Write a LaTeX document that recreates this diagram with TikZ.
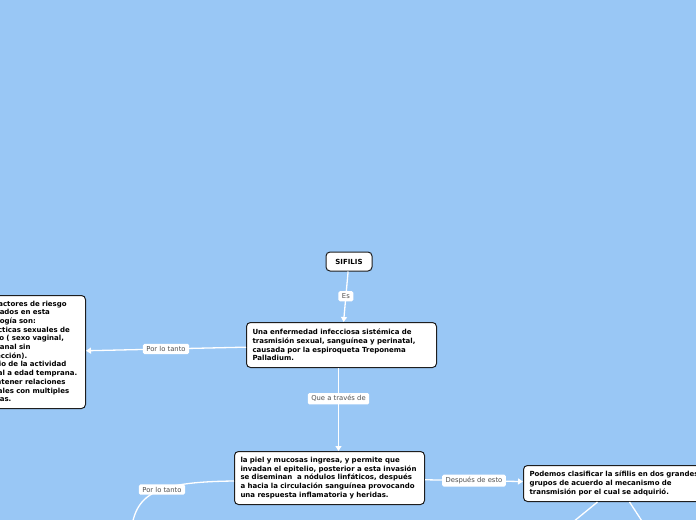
\documentclass[tikz,border=0pt]{standalone}
\usepackage{fontspec}
\setmainfont{DejaVu Sans}
\usetikzlibrary{arrows.meta, positioning}
\definecolor{skyback}{RGB}{153,199,245}
\definecolor{boxline}{RGB}{30,30,30}
\definecolor{taggray}{RGB}{80,80,80}
\newcommand\nobreakwords{\hyphenpenalty=10000\relax}

\begin{document}
\begin{tikzpicture}[x=1pt, y=-1pt,
    topic/.style={draw=boxline, line width=1pt, rounded corners=4pt, fill=white,
                  align=left, inner xsep=6pt, inner ysep=4pt,
                  font=\fontsize{7}{8.7}\selectfont\bfseries\nobreakwords},
    tag/.style={fill=white, rounded corners=1.5pt, inner xsep=3.5pt, inner ysep=2.5pt,
                text=taggray, font=\fontsize{6.8}{7}\selectfont},
    link/.style={draw=white, line width=1.3pt, -{Triangle[width=6pt, length=5pt]}}
]
    \useasboundingbox (0,0) rectangle (696,520);
    \clip (0,0) rectangle (696,520);
    \fill[skyback] (0,0) rectangle (696,520);

    \node[topic, align=center, minimum width=46pt, minimum height=19pt] (sifilis) at (349,261.5) {SIFILIS};
    \node[topic, anchor=north west, text width=178pt, minimum height=45pt] (def) at (246,322)
        {Una enfermedad infecciosa sistémica de\\trasmisión sexual, sanguínea y perinatal,\\causada por la espiroqueta Treponema\\Palladium.};
    \node[topic, anchor=north west, inner xsep=4pt, text width=102pt, minimum height=113pt] (risk) at (-25,295)
        {Los factores de riesgo\\asociados en esta\\patología son:\\- Prácticas sexuales de\\riesgo ( sexo vaginal,\\oral, anal sin\\protección).\\- Inicio de la actividad\\sexual a edad temprana.\\- Mantener relaciones\\sexuales con multiples\\parejas.};
    \node[topic, anchor=north west, text width=178pt, minimum height=53pt] (cause) at (234,451)
        {la piel y mucosas ingresa, y permite que\\invadan el epitelio, posterior a esta invasión\\se diseminan \ a nódulos linfáticos, después\\a hacia la circulación sanguínea provocando\\una respuesta inflamatoria y heridas.};
    \node[topic, anchor=north west, text width=200pt, minimum height=36pt] (kinds) at (523,465)
        {Podemos clasificar la sífilis en dos grandes\\grupos de acuerdo al mecanismo de\\transmisión por el cual se adquirió.};

    \coordinate (below) at (130,545);
    \coordinate (kidleft) at (551,540);
    \coordinate (kidright) at (655,541);

    \draw[link] (sifilis) -- (def) node[tag, pos=0.49] {Es};
    \draw[link] (def) -- (risk) node[tag, midway] {Por lo tanto};
    \draw[link] ([xshift=-3pt]def.south) -- ([xshift=9pt]cause.north) node[tag, pos=0.37] {Que a través de};
    \draw[link] (cause) -- (kinds) node[tag, midway] {Después de esto};
    \draw[link] ([yshift=-3pt]cause.west) .. controls (150,482) and (133,495) .. (below)
        node[tag, pos=0.4] {Por lo tanto};
    \draw[link] ([xshift=-32pt]kinds.south) -- (kidleft);
    \draw[link] ([xshift=0pt]kinds.south) -- (kidright);
\end{tikzpicture}
\end{document}
